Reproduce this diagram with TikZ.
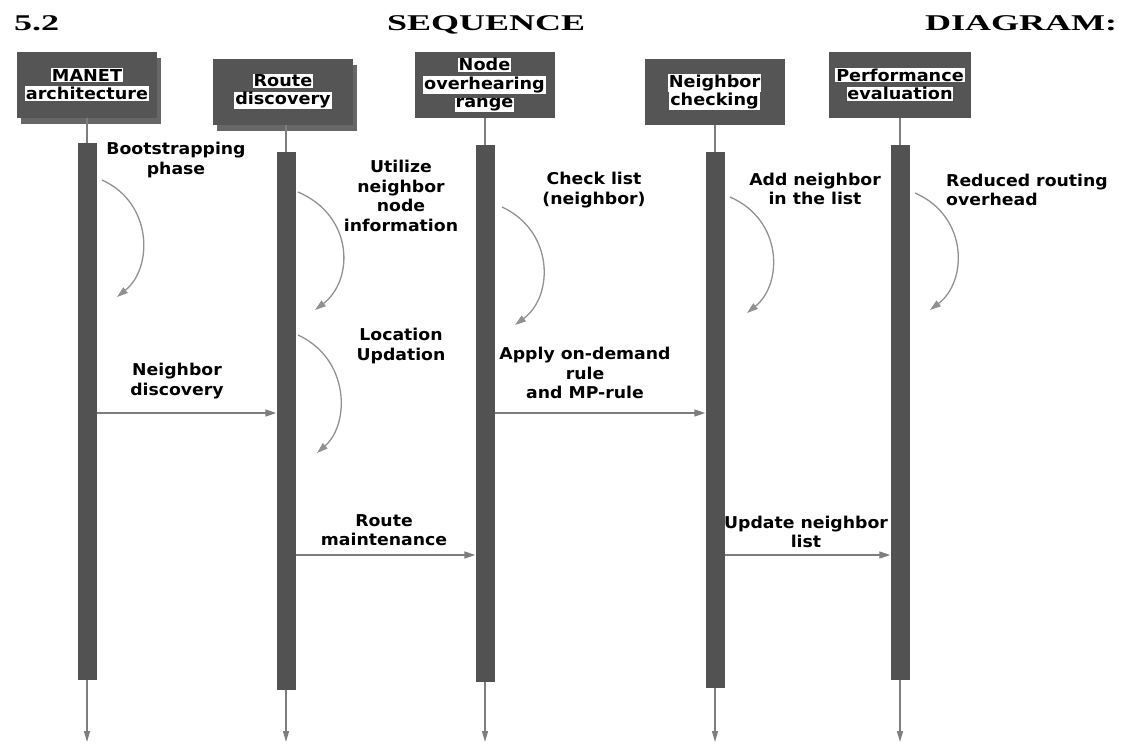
\documentclass[tikz,border=0pt]{standalone}
\usepackage{fontspec}
\usetikzlibrary{arrows.meta,shadows}
\newfontfamily\lblfont{DejaVu Sans}[FakeStretch=1.06]
\newfontfamily\boxfont{DejaVu Sans}[FakeStretch=1.07]
\newfontfamily\ttlfont{Liberation Serif}[FakeStretch=1.6]
\definecolor{boxgray}{HTML}{555555}
\definecolor{bargray}{HTML}{525252}
\definecolor{arrgray}{HTML}{7E7E7E}
\newcommand{\hlt}[1]{{\setlength{\fboxsep}{0.8pt}\colorbox{white}{#1}}}
\lineskiplimit=-20pt
\lineskip=0pt
\tikzset{
  objbox/.style={draw=none, fill=boxgray, minimum width=140pt, minimum height=66pt, inner sep=0pt,
    align=center, font=\boxfont\bfseries\fontsize{16.5}{18.5}\selectfont},
  shadowed/.style={drop shadow={shadow xshift=3.5pt, shadow yshift=-6pt, fill=black!85, opacity=0.7}},
  actbar/.style={draw=none, fill=bargray, minimum width=19pt, inner sep=0pt, anchor=north},
  lifeln/.style={draw=arrgray, line width=1.6pt},
  msg/.style={draw=arrgray, line width=1.4pt, -{Triangle[length=11pt,width=7pt]}},
  selfmsg/.style={draw=arrgray!85, line width=1.3pt, -{Triangle[length=11pt,width=7pt]}},
  endarr/.style={draw=arrgray, line width=1.4pt, -{Triangle[length=11pt,width=6pt]}},
  lbl/.style={align=center, inner sep=0pt, font=\lblfont\bfseries\fontsize{16.3}{19.5}\selectfont},
  ttl/.style={anchor=base west, inner sep=0pt, font=\ttlfont\bfseries\fontsize{22.5}{24}\selectfont}
}
\begin{document}
\begin{tikzpicture}[x=1pt,y=-1pt]
\useasboundingbox (0,0) rectangle (1121,744);
% title
\node[ttl] (t1) at (14,30) {5.2};
\node[ttl] (t2) at (387,30) {SEQUENCE};
\node[ttl] (t3) at (925,30) {DIAGRAM:};
% object boxes
\node[objbox, shadowed] (o1) at (87,84.5) {\hlt{MANET}\\\hlt{architecture}};
\node[objbox, shadowed] (o2) at (283,91.5) {\hlt{Route}\\\hlt{discovery}};
\node[objbox] (o3) at (484.5,85) {\hlt{Node}\\\hlt{overhearing}\\\hlt{range}};
\node[objbox] (o4) at (714.5,92) {\hlt{Neighbor}\\\hlt{checking}};
\node[objbox, minimum width=142pt] (o5) at (900,84.5) {\hlt{Performance}\\\hlt{evaluation}};
% activation bars
\node[actbar, minimum height=537pt] (b1) at (87,143) {};
\node[actbar, minimum height=538pt] (b2) at (286,152) {};
\node[actbar, minimum height=537pt] (b3) at (485,145) {};
\node[actbar, minimum height=536pt] (b4) at (715,152) {};
\node[actbar, minimum height=535pt] (b5) at (900,145) {};
% lifelines to bars
\draw[lifeln] (o1.south -| b1.north) -- (b1.north);
\draw[lifeln] (o2.south -| b2.north) -- (b2.north);
\draw[lifeln] (o3.south -| b3.north) -- (b3.north);
\draw[lifeln] (o4.south -| b4.north) -- (b4.north);
\draw[lifeln] (o5.south -| b5.north) -- (b5.north);
% bottom arrows
\coordinate (e1) at (87,742);
\coordinate (e2) at (286,742);
\coordinate (e3) at (485,742);
\coordinate (e4) at (715,742);
\coordinate (e5) at (900,742);
\draw[endarr] (b1.south) -- (e1);
\draw[endarr] (b2.south) -- (e2);
\draw[endarr] (b3.south) -- (e3);
\draw[endarr] (b4.south) -- (e4);
\draw[endarr] (b5.south) -- (e5);
% self messages
\coordinate (s1a) at (102,180); \coordinate (s1b) at (117,297);
\coordinate (s2a) at (298,192); \coordinate (s2b) at (315,310);
\coordinate (s3a) at (298,335); \coordinate (s3b) at (317,453);
\coordinate (s4a) at (502,207); \coordinate (s4b) at (515,325);
\coordinate (s5a) at (730,197); \coordinate (s5b) at (747,313);
\coordinate (s6a) at (915,193); \coordinate (s6b) at (930,310);
\draw[selfmsg] (s1a) .. controls (153,203) and (153,268) .. (s1b);
\draw[selfmsg] (s2a) .. controls (354,216) and (354,280) .. (s2b);
\draw[selfmsg] (s3a) .. controls (350,359) and (350,424) .. (s3b);
\draw[selfmsg] (s4a) .. controls (554,231) and (554,296) .. (s4b);
\draw[selfmsg] (s5a) .. controls (783,220) and (783,284) .. (s5b);
\draw[selfmsg] (s6a) .. controls (968,216) and (968,281) .. (s6b);
% horizontal messages
\draw[msg] (b1.east |- 0,413) -- (b2.west |- 0,413);
\draw[msg] (b3.east |- 0,413) -- (b4.west |- 0,413);
\draw[msg] (b2.east |- 0,555) -- (b3.west |- 0,555);
\draw[msg] (b4.east |- 0,555) -- (b5.west |- 0,555);
% labels
\node[lbl] (l1) at (176,160) {Bootstrapping\\phase};
\node[lbl] (l2) at (401,196) {Utilize\\neighbor\\node\\information};
\node[lbl] (l3) at (401,346) {Location\\Updation};
\node[lbl] (l4) at (594,190) {Check list\\(neighbor)};
\node[lbl] (l5) at (815,189) {Add neighbor\\in the list};
\node[lbl, align=left, anchor=west] (l6) at (946,190) {Reduced routing\\overhead};
\node[lbl] (l7) at (177,381) {Neighbor\\discovery};
\node[lbl] (l8) at (585,373) {Apply on-demand\\rule\\and MP-rule};
\node[lbl] (l9) at (384,530) {Route\\maintenance};
\node[lbl] (l10) at (806,532) {Update neighbor\\list};
\end{tikzpicture}
\end{document}
